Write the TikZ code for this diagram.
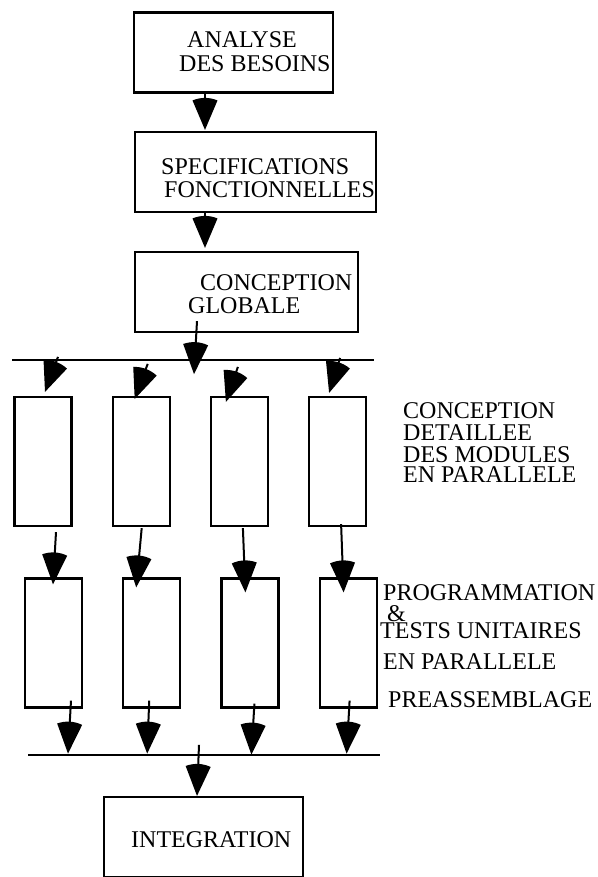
\documentclass[tikz,border=0pt]{standalone}
\usepackage{fontspec}
\setmainfont{Liberation Serif}
\usetikzlibrary{positioning,calc}

% filled wedge tip with a rounded back
\pgfdeclarearrow{
  name = Wedge,
  setup code = {
    \pgfarrowssettipend{0pt}
    \pgfarrowssetlineend{-16pt}
    \pgfarrowssetbackend{-32pt}
    \pgfarrowshullpoint{0pt}{0pt}
    \pgfarrowshullpoint{-32pt}{13pt}
    \pgfarrowshullpoint{-32pt}{-13pt}
  },
  drawing code = {
    \pgfpathmoveto{\pgfpointorigin}
    \pgfpathlineto{\pgfpointpolar{157}{32pt}}
    \pgfpatharc{157}{203}{32pt}
    \pgfpathclose
    \pgfusepathqfill
  }
}

\begin{document}
\begin{tikzpicture}[
    x=1pt,y=-1pt,
    box/.style={draw,line width=2.2pt,inner sep=0pt,minimum height=80pt},
    col/.style={draw,line width=2.2pt,inner sep=0pt,minimum width=57pt,minimum height=129pt},
    txt/.style={anchor=base west,inner sep=0pt,font=\fontsize{24}{24}\selectfont},
    arr/.style={line width=2pt,-Wedge},
    bus/.style={line width=2pt},
    node distance=39pt
  ]
    \useasboundingbox (0,0) rectangle (597,877);

    % main chain
    \node[box,minimum width=199pt] (analyse) at (233.5,52.5) {};
    \node[box,minimum width=241pt] (specs) at (255.5,172) {};
    \node[box,minimum width=223pt] (globale) at (246.5,292) {};
    \node[box,minimum width=199pt] (integ) at (203.5,837) {};

    \node[txt] (analyse1) at (187,48) {ANALYSE};
    \node[txt] (analyse2) at (179,72) {DES BESOINS};
    \node[txt] (specs1) at (161,175) {SPECIFICATIONS};
    \node[txt] (specs2) at (164,198) {FONCTIONNELLES};
    \node[txt] (globale1) at (200,290) {CONCEPTION};
    \node[txt] (globale2) at (188,313) {GLOBALE};
    \node[txt] (integ1) at (131,847) {INTEGRATION};

    % parallel modules
    \node[col] (c1) at (43,461.5) {};
    \node[col,right=39pt of c1] (c2) {};
    \node[col,right=39pt of c2] (c3) {};
    \node[col,right=39pt of c3] (c4) {};
    \node[col] (p1) at (53.5,643) {};
    \node[col,right=39pt of p1] (p2) {};
    \node[col,right=39pt of p2] (p3) {};
    \node[col,right=39pt of p3] (p4) {};

    \node[txt] (det1) at (403,418) {CONCEPTION};
    \node[txt] (det2) at (403,440) {DETAILLEE};
    \node[txt] (det3) at (403,462) {DES MODULES};
    \node[txt] (det4) at (403,482) {EN PARALLELE};
    \node[txt] (prog1) at (383,600) {PROGRAMMATION};
    \node[txt] (prog2) at (387,621) {\&};
    \node[txt] (prog3) at (380,638) {TESTS UNITAIRES};
    \node[txt] (prog4) at (383,669) {EN PARALLELE};
    \node[txt] (prog5) at (388,707) {PREASSEMBLAGE};

    % bus lines
    \coordinate (topL) at (12,360);
    \coordinate (topR) at (374,360);
    \coordinate (botL) at (28,755);
    \coordinate (botR) at (380,755);
    \draw[bus] (topL) -- (topR);
    \draw[bus] (botL) -- (botR);

    % arrows
    \draw[arr] ($(analyse.south)+(-28.5,0)$) -- ($(specs.north)+(-50.5,-1)$);
    \draw[arr] ($(specs.south)+(-50.5,0)$) -- ($(globale.north)+(-41.5,-3)$);
    \draw[arr] ($(globale.south)+(-49.5,-12)$) -- ($(globale.south)+(-52.5,41)$);
    \foreach \n/\sx/\sy/\tx/\ty in {1/15/-39/2/-4, 2/6.5/-32/-6.5/3, 3/-1.5/-29/-13.5/6, 4/2.5/-38/-8.5/-3}
      \draw[arr] ($(c\n.north)+(\sx,\sy)$) -- ($(c\n.north)+(\tx,\ty)$);
    \foreach \n/\sx/\sy/\tx/\ty in {1/13/5/-0.5/7, 2/0.5/1/-15.5/10, 3/3.5/1/-4.5/15, 4/3.5/-3/-4.5/15}
      \draw[arr] ($(c\n.south)+(\sx,\sy)$) -- ($(p\n.north)+(\tx,\ty)$);
    \foreach \n/\sx/\sy/\tx/\ty in {1/17.5/-8/14.5/45, 2/-2.5/-8/-4.5/45, 3/4.5/-5/1.5/46, 4/1.5/-8/-1.5/45}
      \draw[arr] ($(p\n.south)+(\sx,\sy)$) -- ($(p\n.south)+(\tx,\ty)$);
    \draw[arr] ($(integ.north)+(-4.5,-51)$) -- ($(integ.north)+(-6.5,0)$);
\end{tikzpicture}
\end{document}
